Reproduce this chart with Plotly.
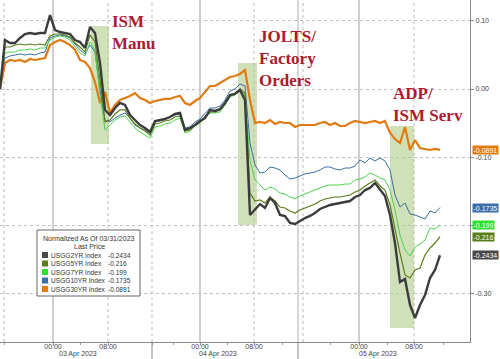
import plotly.graph_objects as go

# ---- data (normalized yield change vs 03/31/2023), sampled per chart bar ----
usgg2yr = [0.0, 0.0717, 0.0673, 0.0673, 0.0747, 0.0805, 0.0820, 0.0805, 0.0820, 0.0820,
           0.1083, 0.0864, 0.0834, 0.0820, 0.0805, 0.0717, 0.0688, 0.0600, 0.0908, 0.0820,
           0.0381, -0.0307, -0.0381, -0.0278, -0.0205, -0.0234, -0.0381, -0.0454, -0.0527, -0.0571,
           -0.0630, -0.0468, -0.0454, -0.0439, -0.0410, -0.0366, -0.0351, -0.0600, -0.0571, -0.0527,
           -0.0468, -0.0425, -0.0307, -0.0322, -0.0293, -0.0205, -0.0088, -0.0073, -0.0015, -0.0161,
           -0.1845, -0.1771, -0.1684, -0.1742, -0.1596, -0.1669, -0.1845, -0.1859, -0.1962, -0.1976,
           -0.1932, -0.1889, -0.1859, -0.1815, -0.1757, -0.1728, -0.1698, -0.1684, -0.1669, -0.1654,
           -0.1640, -0.1581, -0.1552, -0.1479, -0.1449, -0.1376, -0.1479, -0.1566, -0.1845, -0.2255,
           -0.2826, -0.2782, -0.3162, -0.3353, -0.3162, -0.3016, -0.2767, -0.2650, -0.2434]
usgg5yr = [0.0, 0.0615, 0.0615, 0.0644, 0.0659, 0.0644, 0.0659, 0.0644, 0.0659, 0.0644,
           0.0776, 0.0805, 0.0805, 0.0791, 0.0761, 0.0673, 0.0615, 0.0542, 0.0791, 0.0688,
           0.0132, -0.0483, -0.0454, -0.0366, -0.0307, -0.0307, -0.0425, -0.0512, -0.0571, -0.0615,
           -0.0673, -0.0512, -0.0498, -0.0468, -0.0454, -0.0410, -0.0395, -0.0615, -0.0600, -0.0527,
           -0.0483, -0.0410, -0.0337, -0.0337, -0.0307, -0.0220, -0.0102, -0.0059, 0.0, -0.0059,
           -0.1523, -0.1640, -0.1625, -0.1669, -0.1581, -0.1640, -0.1728, -0.1742, -0.1786, -0.1815,
           -0.1771, -0.1742, -0.1713, -0.1684, -0.1640, -0.1610, -0.1596, -0.1581, -0.1581, -0.1566,
           -0.1552, -0.1508, -0.1479, -0.1420, -0.1376, -0.1332, -0.1420, -0.1479, -0.1698, -0.2064,
           -0.2401, -0.2723, -0.2767, -0.2650, -0.2621, -0.2430, -0.2328, -0.2255, -0.2160]
usgg7yr = [0.0, 0.0527, 0.0542, 0.0542, 0.0571, 0.0571, 0.0586, 0.0571, 0.0600, 0.0600,
           0.0717, 0.0761, 0.0776, 0.0761, 0.0717, 0.0630, 0.0527, 0.0483, 0.0688, 0.0571,
           -0.0088, -0.0600, -0.0527, -0.0454, -0.0410, -0.0395, -0.0483, -0.0571, -0.0630, -0.0673,
           -0.0717, -0.0556, -0.0542, -0.0512, -0.0498, -0.0454, -0.0425, -0.0644, -0.0615, -0.0542,
           -0.0498, -0.0425, -0.0351, -0.0351, -0.0337, -0.0234, -0.0117, -0.0088, -0.0015, -0.0088,
           -0.1039, -0.1332, -0.1405, -0.1479, -0.1435, -0.1464, -0.1523, -0.1537, -0.1581, -0.1610,
           -0.1566, -0.1537, -0.1508, -0.1479, -0.1449, -0.1420, -0.1405, -0.1405, -0.1405, -0.1391,
           -0.1391, -0.1332, -0.1318, -0.1288, -0.1230, -0.1259, -0.1303, -0.1332, -0.1479, -0.1771,
           -0.2137, -0.2357, -0.2445, -0.2313, -0.2269, -0.2211, -0.2035, -0.2050, -0.1990]
usgg10yr = [0.0, 0.0454, 0.0483, 0.0498, 0.0512, 0.0498, 0.0512, 0.0498, 0.0527, 0.0542,
            0.0747, 0.0776, 0.0791, 0.0776, 0.0747, 0.0659, 0.0571, 0.0512, 0.0644, 0.0542,
            -0.0015, -0.0454, -0.0483, -0.0425, -0.0381, -0.0351, -0.0425, -0.0527, -0.0571, -0.0600,
            -0.0644, -0.0483, -0.0468, -0.0439, -0.0410, -0.0381, -0.0366, -0.0571, -0.0556, -0.0483,
            -0.0439, -0.0351, -0.0278, -0.0278, -0.0249, -0.0161, -0.0029, 0.0, 0.0073, 0.0044,
            -0.0791, -0.1113, -0.1230, -0.1215, -0.1142, -0.1157, -0.1186, -0.1259, -0.1318, -0.1303,
            -0.1274, -0.1244, -0.1230, -0.1215, -0.1186, -0.1142, -0.1142, -0.1171, -0.1186, -0.1157,
            -0.1157, -0.1127, -0.1039, -0.1083, -0.1010, -0.1054, -0.1010, -0.1054, -0.1186, -0.1552,
            -0.1728, -0.1669, -0.1830, -0.1845, -0.1874, -0.1903, -0.1786, -0.1815, -0.1735]
usgg30yr = [0.0, 0.0381, 0.0425, 0.0410, 0.0425, 0.0395, 0.0439, 0.0425, 0.0439, 0.0454,
            0.0644, 0.0688, 0.0717, 0.0688, 0.0644, 0.0571, 0.0425, 0.0395, 0.0307, 0.0102,
            -0.0205, -0.0044, -0.0351, -0.0234, -0.0161, -0.0132, -0.0102, -0.0059, -0.0132, -0.0161,
            -0.0205, -0.0176, -0.0161, -0.0146, -0.0146, -0.0117, -0.0102, -0.0205, -0.0234, -0.0176,
            -0.0132, -0.0044, 0.0044, 0.0044, 0.0088, 0.0132, 0.0176, 0.0190, 0.0220, 0.0278,
            -0.0161, -0.0498, -0.0483, -0.0498, -0.0454, -0.0512, -0.0483, -0.0498, -0.0498, -0.0556,
            -0.0527, -0.0527, -0.0527, -0.0527, -0.0498, -0.0483, -0.0527, -0.0498, -0.0542, -0.0542,
            -0.0498, -0.0468, -0.0483, -0.0498, -0.0483, -0.0468, -0.0498, -0.0468, -0.0644, -0.0732,
            -0.0791, -0.0556, -0.0893, -0.0747, -0.0864, -0.0878, -0.0893, -0.0878, -0.0891]

series_names = ["USGG2YR Index", "USGG5YR Index", "USGG7YR Index", "USGG10YR Index", "USGG30YR Index"]
series_values = [usgg2yr, usgg5yr, usgg7yr, usgg10yr, usgg30yr]
last_price = [-0.2434, -0.216, -0.199, -0.1735, -0.0891]
last_price_text = ["-0.2434", "-0.216", "-0.199", "-0.1735", "-0.0891"]
series_colors = ["#3c3c3c", "#5b7d17", "#4fd24f", "#3d6fa5", "#e07a12"]
label_colors = ["#484848", "#5a7d1a", "#2fe02f", "#3b6ea8", "#e27b12"]
series_widths = [2.4, 1.2, 1.0, 1.0, 2.2]

bars = list(range(len(usgg2yr)))  # chart bar index (compressed intraday time)

# x axis ticks (bar positions)
tick_bars = [10.6, 21.6, 40.0, 50.8, 71.8, 82.8]
tick_labels = ["00:00", "08:00", "00:00", "08:00", "00:00", "08:00"]
midnight_bars = [10.6, 40.0, 71.8]
dotted_bars = [0.8, 21.6, 30.4, 50.8, 60.6, 82.8]
separator_bars = [30.4, 59.6]
minor_bars = [0.8, 16.0, 30.4, 34.6, 45.4, 56.4, 66.0, 77.4, 88.6]
date_labels = ["03 Apr 2023", "04 Apr 2023", "05 Apr 2023"]
date_label_bars = [15.6, 43.6, 75.6]

y_ticks = [0.10, 0.0, -0.10, -0.20, -0.30]
y_tick_text = ["0.10", "0.00", "-0.10", "", "-0.30"]  # -0.20 hidden behind value labels

# event windows
event_text = ["<b>ISM<br>Manu</b>", "<b>JOLTS/<br>Factory<br>Orders</b>", "<b>ADP/<br>ISM Serv</b>"]
event_start = [18.2, 47.6, 78.0]
event_end = [21.8, 51.4, 82.8]
event_top = [0.0922, 0.0381, -0.0542]
event_bottom = [-0.0805, -0.1991, -0.3499]
event_text_x = [22.0, 51.4, 78.2]
event_text_y = [0.1157, 0.0937, 0.0102]

fig = go.Figure()

order = [4, 3, 2, 1, 0]
for i in order:
    fig.add_trace(go.Scatter(x=bars, y=series_values[i], mode="lines", name=series_names[i],
                             line=dict(color=series_colors[i], width=series_widths[i]),
                             showlegend=False, hoverinfo="skip"))

shapes = []
for s, e, t, b in zip(event_start, event_end, event_top, event_bottom):
    shapes.append(dict(type="rect", xref="x", yref="y", x0=s, x1=e, y0=b, y1=t,
                       fillcolor="rgba(170,200,130,0.55)", line=dict(width=0), layer="below"))
for xb in midnight_bars:
    shapes.append(dict(type="line", xref="x", yref="paper", x0=xb, x1=xb, y0=0, y1=1,
                       line=dict(color="#a0a0a0", width=1), layer="below"))
for xb in dotted_bars:
    shapes.append(dict(type="line", xref="x", yref="paper", x0=xb, x1=xb, y0=0, y1=1,
                       line=dict(color="#bbbbbb", width=1, dash="dot"), layer="below"))
for xb in separator_bars:
    shapes.append(dict(type="line", xref="x", yref="paper", x0=xb, x1=xb, y0=-0.05, y1=0,
                       line=dict(color="#888888", width=1)))
shapes.append(dict(type="line", xref="x", yref="paper", x0=59.6, x1=59.6, y0=0, y1=1,
                   line=dict(color="#b0b0b0", width=1), layer="below"))

annotations = []
for tx, xx, yy in zip(event_text, event_text_x, event_text_y):
    annotations.append(dict(text=tx, x=xx, y=yy, xref="x", yref="y", xanchor="left",
                            yanchor="top", align="left", showarrow=False,
                            font=dict(family="Liberation Serif", size=17, color="#ad1a30")))
for dl, xb in zip(date_labels, date_label_bars):
    annotations.append(dict(text=dl, x=xb, y=-0.036, xref="x", yref="paper", xanchor="center",
                            yanchor="middle", showarrow=False,
                            font=dict(family="Liberation Sans", size=7, color="#444444")))
for v, txt, c in zip(last_price, last_price_text, label_colors):
    annotations.append(dict(text=txt, x=1.004, y=v, xref="paper", yref="y", xanchor="left",
                            yanchor="middle", showarrow=False, bgcolor=c, borderpad=0.5,
                            font=dict(family="Liberation Sans", size=7, color="white")))

# legend box built from shapes + text
W_PLOT, H_PLOT = 470.0, 342.0
def px(xp):
    return xp / W_PLOT
def py(yp):
    return 1 - yp / H_PLOT

shapes.append(dict(type="rect", xref="paper", yref="paper", x0=px(37), x1=px(140),
                   y0=py(296), y1=py(230), fillcolor="white", line=dict(color="#666666", width=1)))
annotations.append(dict(text="Normalized As Of 03/31/2023", x=px(89), y=py(238), xref="paper",
                        yref="paper", xanchor="center", yanchor="middle", showarrow=False,
                        font=dict(family="Liberation Sans", size=7, color="#333333")))
annotations.append(dict(text="Last Price", x=px(89), y=py(246.5), xref="paper",
                        yref="paper", xanchor="center", yanchor="middle", showarrow=False,
                        font=dict(family="Liberation Sans", size=7, color="#333333")))
row_y = [255, 263.5, 272, 280.5, 289]
for k in range(5):
    ry = row_y[k]
    shapes.append(dict(type="rect", xref="paper", yref="paper", x0=px(42), x1=px(48),
                       y0=py(ry + 3), y1=py(ry - 3), fillcolor=label_colors[k], line=dict(width=0)))
    annotations.append(dict(text=series_names[k], x=px(49), y=py(ry), xref="paper", yref="paper",
                            xanchor="left", yanchor="middle", showarrow=False,
                            font=dict(family="Liberation Sans", size=6.6, color="#333333")))
    annotations.append(dict(text=last_price_text[k], x=px(106), y=py(ry), xref="paper", yref="paper",
                            xanchor="left", yanchor="middle", showarrow=False,
                            font=dict(family="Liberation Sans", size=6.6, color="#333333")))

fig.update_layout(
    width=500, height=359,
    margin=dict(l=0, r=30, t=0, b=17),
    paper_bgcolor="white", plot_bgcolor="white",
    showlegend=False,
    shapes=shapes, annotations=annotations,
    xaxis=dict(range=[0, 94], tickmode="array", tickvals=tick_bars, ticktext=tick_labels,
               showgrid=False, zeroline=False, showline=True, linecolor="#888888", linewidth=1,
               ticks="outside", ticklen=2, tickcolor="#888888", ticklabelstandoff=-4,
               tickfont=dict(family="Liberation Sans", size=7, color="#444444"),
               minor=dict(tickmode="array", tickvals=minor_bars, ticks="outside", ticklen=2,
                          tickcolor="#999999", showgrid=False)),
    yaxis=dict(side="right", range=[-0.3704, 0.1303], tickmode="array", tickvals=y_ticks,
               ticktext=y_tick_text, showgrid=True, gridcolor="#c0c0c0", griddash="dot",
               zeroline=False, showline=True, linecolor="#888888", linewidth=1,
               ticks="outside", ticklen=3, tickcolor="#888888",
               tickfont=dict(family="Liberation Sans", size=7, color="#444444")),
)

fig.write_html("out.html", config={"displayModeBar": False},
               post_script="document.body.style.margin='0';document.body.style.overflow='hidden';")
